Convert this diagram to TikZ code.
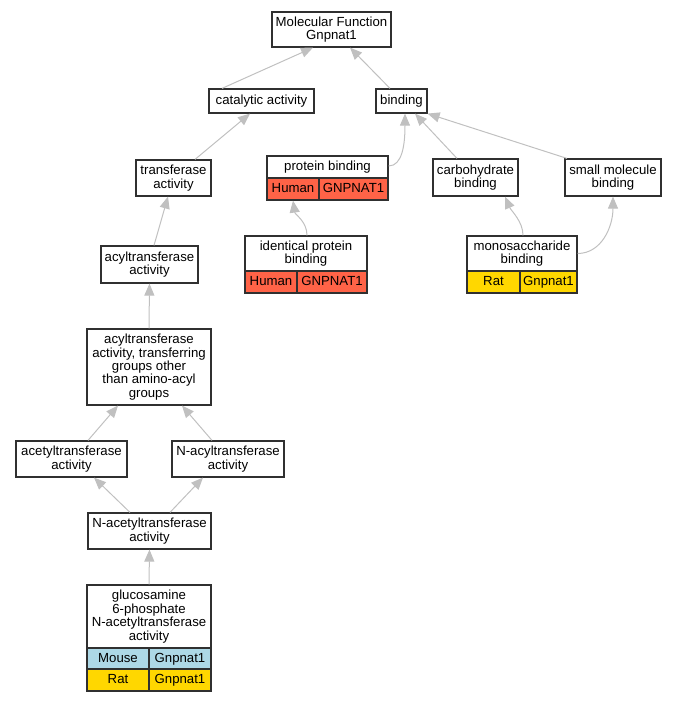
\documentclass[tikz,border=0pt]{standalone}
\usepackage{fontspec}
\setmainfont{Liberation Sans}
\usetikzlibrary{arrows.meta,calc}
\definecolor{edgegray}{HTML}{C0C0C0}
\definecolor{boxline}{HTML}{303030}
\definecolor{human}{HTML}{FF6347}
\definecolor{rat}{HTML}{FFD700}
\definecolor{mouse}{HTML}{ADD8E6}
\tikzset{
  box/.style={draw=boxline, line width=1.2pt, fill=white, inner sep=0pt, align=center,
    font=\fontsize{13.2}{13.4}\selectfont},
  oneline/.style={text height=10pt, text depth=2.3pt},
  cell/.style={draw=boxline, line width=1.2pt, inner sep=0pt, align=center,
    text height=10pt, text depth=2.3pt,
    font=\fontsize{13.2}{13.4}\selectfont},
  edge/.style={draw=edgegray, line width=1pt, -{Triangle[length=12pt,width=10pt]}},
}
\begin{document}
\begin{tikzpicture}[x=1pt,y=-1pt]
\useasboundingbox (0,0) rectangle (677,701);
% plain nodes
\node[box, minimum width=119pt, minimum height=35pt] (mf) at (331.5,29.5) {Molecular Function\\Gnpnat1};
\node[box, oneline, minimum width=105pt, minimum height=24pt] (cat) at (261.5,101) {catalytic activity};
\node[box, oneline, minimum width=51pt, minimum height=24pt] (bind) at (401.5,101) {binding};
\node[box, minimum width=75pt, minimum height=36pt] (trans) at (173.5,178) {transferase\\activity};
\node[box, minimum width=85pt, minimum height=37pt] (carb) at (475.5,177.5) {carbohydrate\\binding};
\node[box, minimum width=96pt, minimum height=37pt] (small) at (613,177.5) {small molecule\\binding};
\node[box, minimum width=97pt, minimum height=37pt] (acyl) at (149.5,264.5) {acyltransferase\\activity};
\node[box, minimum width=124pt, minimum height=76pt] (acyltr) at (149,367) {acyltransferase\\activity, transferring\\groups other\\than amino-acyl\\groups};
\node[box, minimum width=111pt, minimum height=36pt] (acet) at (71.5,459) {acetyltransferase\\activity};
\node[box, minimum width=112pt, minimum height=36pt] (nacyl) at (228,459) {N-acyltransferase\\activity};
\node[box, minimum width=123pt, minimum height=36pt] (nacet) at (149.5,531) {N-acetyltransferase\\activity};
% protein binding table
\node[box, oneline, minimum width=121pt, minimum height=22pt] (pb) at (327.5,167) {protein binding};
\node[cell, fill=human, minimum width=52pt, minimum height=22pt] (pbh) at (293,189) {Human};
\node[cell, fill=human, minimum width=69pt, minimum height=22pt] (pbg) at (353.5,189) {GNPNAT1};
% identical protein binding table
\node[box, minimum width=122pt, minimum height=35pt] (ipb) at (306,253.5) {identical protein\\binding};
\node[cell, fill=human, minimum width=52pt, minimum height=22pt] (ipbh) at (271,282) {Human};
\node[cell, fill=human, minimum width=70pt, minimum height=22pt] (ipbg) at (332,282) {GNPNAT1};
% monosaccharide binding table
\node[box, minimum width=110pt, minimum height=35pt] (mono) at (522,253.5) {monosaccharide\\binding};
\node[cell, fill=rat, minimum width=53pt, minimum height=22pt] (monor) at (493.5,282) {Rat};
\node[cell, fill=rat, minimum width=57pt, minimum height=22pt] (monog) at (548.5,282) {Gnpnat1};
% glucosamine table
\node[box, minimum width=124pt, minimum height=63pt] (glu) at (149,616.5) {glucosamine\\6-phosphate\\N-acetyltransferase\\activity};
\node[cell, fill=mouse, minimum width=62pt, minimum height=21pt] (glum) at (118,658.5) {Mouse};
\node[cell, fill=mouse, minimum width=62pt, minimum height=21pt] (glumg) at (180,658.5) {Gnpnat1};
\node[cell, fill=rat, minimum width=62pt, minimum height=22pt] (glur) at (118,680) {Rat};
\node[cell, fill=rat, minimum width=62pt, minimum height=22pt] (glurg) at (180,680) {Gnpnat1};
% edges
\draw[edge] ([xshift=-39.5pt]cat.north) -- ([xshift=-18.5pt]mf.south);
\draw[edge] ([xshift=-11.5pt]bind.north) -- ([xshift=18.5pt]mf.south);
\draw[edge] ([xshift=21.5pt]trans.north) -- ([xshift=-11.5pt]cat.south);
\draw[edge] ([yshift=1pt]pb.east) .. controls +(14pt,0pt) and +(0pt,-30pt) .. ([xshift=3.5pt]bind.south);
\draw[edge] ([xshift=-18.5pt]carb.north) -- ([xshift=13.5pt]bind.south);
\draw[edge] ([xshift=-46pt]small.north) -- (bind.south east);
\draw[edge] ([xshift=4.5pt]acyl.north) -- ([xshift=-5.5pt]trans.south);
\draw[edge] ([xshift=1pt]ipb.north) .. controls +(0pt,14pt) and +(2pt,-14pt) .. (pbh.south);
\draw[edge] ([xshift=1pt]mono.north) .. controls +(0pt,14pt) and +(6pt,-14pt) .. ([xshift=29.5pt]carb.south);
\draw[edge] (mono.east) .. controls +(24pt,0pt) and +(0pt,-30pt) .. (small.south);
\draw[edge] (acyltr.north) -- (acyl.south);
\draw[edge] ([xshift=16.5pt]acet.north) -- ([xshift=-31pt]acyltr.south);
\draw[edge] ([xshift=-16pt]nacyl.north) -- ([xshift=33pt]acyltr.south);
\draw[edge] ([xshift=-19.5pt]nacet.north) -- ([xshift=22.5pt]acet.south);
\draw[edge] ([xshift=20.5pt]nacet.north) -- ([xshift=-25pt]nacyl.south);
\draw[edge] (glu.north) -- (nacet.south);
\end{tikzpicture}
\end{document}
